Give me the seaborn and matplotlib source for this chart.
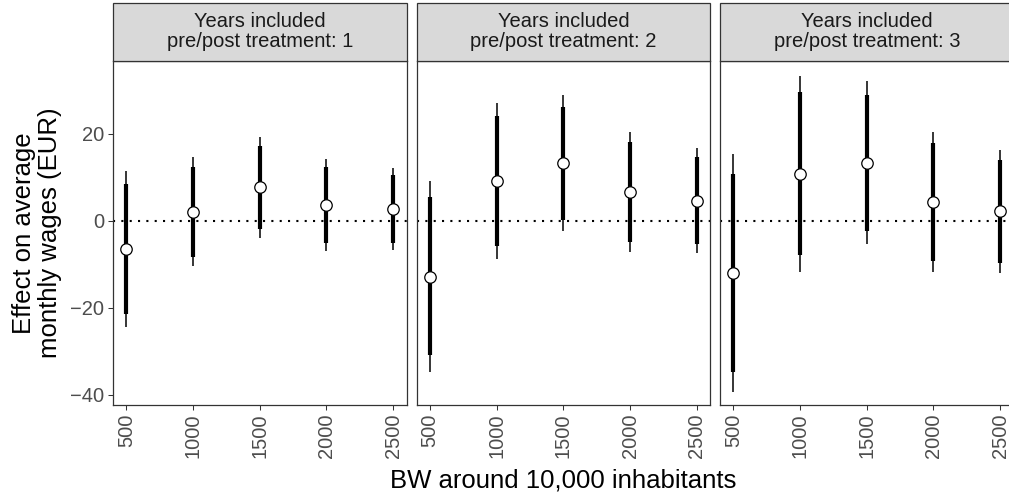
import numpy as np
import pandas as pd
import matplotlib
matplotlib.use("Agg")
import matplotlib.pyplot as plt
import seaborn as sns
from matplotlib.patches import Rectangle

# ---------------- data ----------------
bandwidths = [500, 1000, 1500, 2000, 2500]
panel_years = [1, 2, 3]
panel_titles = ["Years included\npre/post treatment: 1",
                "Years included\npre/post treatment: 2",
                "Years included\npre/post treatment: 3"]

est_y1 = [-6.5, 2.1, 7.7, 3.6, 2.8]
lo90_y1 = [-21.5, -8.3, -1.9, -5.2, -5.1]
hi90_y1 = [8.4, 12.4, 17.2, 12.4, 10.6]
lo95_y1 = [-24.5, -10.3, -4.0, -7.0, -6.7]
hi95_y1 = [11.5, 14.6, 19.3, 14.2, 12.1]

est_y2 = [-12.9, 9.1, 13.4, 6.7, 4.6]
lo90_y2 = [-30.9, -5.8, 0.2, -4.8, -5.4]
hi90_y2 = [5.4, 24.2, 26.3, 18.2, 14.6]
lo95_y2 = [-34.7, -8.9, -2.4, -7.2, -7.5]
hi95_y2 = [9.2, 27.2, 29.0, 20.5, 16.7]

est_y3 = [-12.1, 10.7, 13.4, 4.3, 2.2]
lo90_y3 = [-34.9, -7.9, -2.4, -9.2, -9.7]
hi90_y3 = [10.7, 29.6, 29.0, 17.8, 14.0]
lo95_y3 = [-39.5, -11.7, -5.3, -11.8, -12.1]
hi95_y3 = [15.3, 33.3, 32.1, 20.5, 16.3]

y_ticks = [-40, -20, 0, 20]

frames = []
for yr, e, l9, h9, l5, h5 in zip(
        panel_years,
        [est_y1, est_y2, est_y3],
        [lo90_y1, lo90_y2, lo90_y3],
        [hi90_y1, hi90_y2, hi90_y3],
        [lo95_y1, lo95_y2, lo95_y3],
        [hi95_y1, hi95_y2, hi95_y3]):
    frames.append(pd.DataFrame({"years": yr, "bw": bandwidths, "est": e,
                                "lo90": l9, "hi90": h9, "lo95": l5, "hi95": h5}))
df = pd.concat(frames, ignore_index=True)

# ---------------- style ----------------
sns.set_theme(style="white")
plt.rcParams["font.family"] = ["Liberation Sans", "DejaVu Sans"]
plt.rcParams["axes.unicode_minus"] = True

W, H = 1009, 495
fig = plt.figure(figsize=(W / 100, H / 100), dpi=100)

def fx(px):
    return px / W

def fy(py):
    return (H - py) / H

ax_top, ax_bot = 60.5, 405
panel_lefts = [113, 416.7, 720]
panel_w = 293.5
strip_h = 58

small_fs = 14.5
title_fs = 18.5
edge_col = "#333333"
tick_col = "#4D4D4D"

for i, (yr, title) in enumerate(zip(panel_years, panel_titles)):
    ax = fig.add_axes([fx(panel_lefts[i]), fy(ax_bot),
                       panel_w / W, (ax_bot - ax_top) / H])
    sub = df[df["years"] == yr]
    ax.axhline(0, color="black", lw=1.5, ls=(0, (1, 3.0)), zorder=1)
    ax.vlines(sub["bw"], sub["lo95"], sub["hi95"], color="black", lw=1.1, zorder=2)
    ax.vlines(sub["bw"], sub["lo90"], sub["hi90"], color="black", lw=3.0, zorder=2)
    sns.scatterplot(data=sub, x="bw", y="est", ax=ax, color="white",
                    edgecolor="black", linewidth=0.9, s=68, zorder=3,
                    legend=False)
    ax.set_xlim(400, 2600)
    ax.set_ylim(-42.4, 36.9)
    ax.set_xticks(bandwidths)
    ax.set_xticklabels([str(b) for b in bandwidths], rotation=90,
                       fontsize=small_fs, color=tick_col)
    ax.set_yticks(y_ticks)
    if i == 0:
        ax.set_yticklabels([f"{t:d}".replace("-", "\u2212") for t in y_ticks],
                           fontsize=small_fs, color=tick_col)
        ax.tick_params(axis="y", length=3.8, width=0.75, color=edge_col,
                       pad=2.5, left=True)
    else:
        ax.tick_params(axis="y", left=False, labelleft=False)
    ax.tick_params(axis="x", length=3.8, width=0.75, color=edge_col,
                   pad=2.5, bottom=True)
    ax.set_xlabel("")
    ax.set_ylabel("")
    for sp in ax.spines.values():
        sp.set_color(edge_col)
        sp.set_linewidth(0.9)
    # facet strip
    frac = strip_h / (ax_bot - ax_top)
    ax.add_patch(Rectangle((0, 1), 1, frac, transform=ax.transAxes,
                           facecolor="#D9D9D9", edgecolor=edge_col, lw=0.9,
                           clip_on=False, zorder=5))
    ax.text(0.5, 1 + frac / 2, title, transform=ax.transAxes, ha="center",
            va="center", fontsize=small_fs, color="#1A1A1A",
            linespacing=1.1, zorder=6)

fig.text(fx(37), fy((ax_top + ax_bot) / 2), "Effect on average\nmonthly wages (EUR)",
         rotation=90, ha="center", va="center", fontsize=title_fs,
         color="black", linespacing=1.15)
fig.text(fx(563), fy(487.3), "BW around 10,000 inhabitants", ha="center",
         va="baseline", fontsize=title_fs, color="black")

fig.savefig("out.png", dpi=100)
